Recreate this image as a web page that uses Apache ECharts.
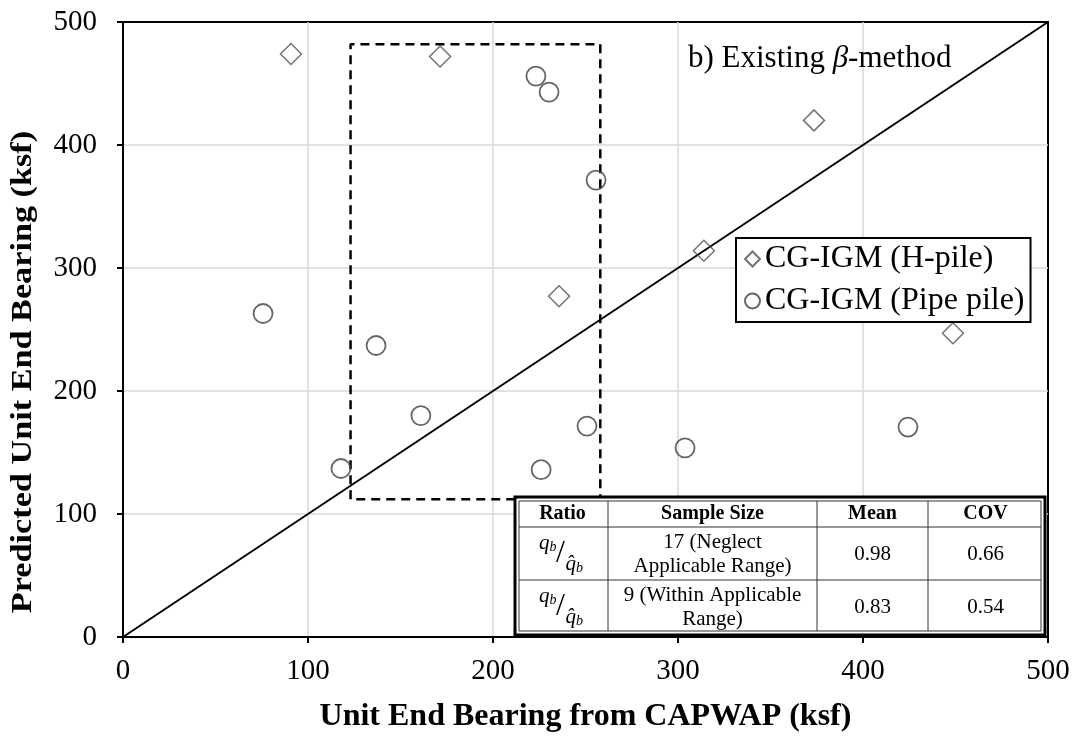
<!DOCTYPE html>
<html>
<head>
<meta charset="utf-8">
<script src="https://cdn.jsdelivr.net/npm/echarts@6/dist/echarts.min.js"></script>
<style>
  html, body { margin: 0; padding: 0; background: #fff; }
  #chart { width: 1081px; height: 739px; }
</style>
</head>
<body>
<div id="chart"></div>
<script>
// H-pile points [CAPWAP, predicted]
const hPile = [
  [90.8, 474], [171.4, 472], [373.5, 420],
  [314, 314], [235.7, 277], [448.6, 247]
]
// pipe pile points
const pipePile = [
  [223.2, 456], [230.3, 443], [255.7, 371.5], [75.7, 263],
  [136.8, 237], [161, 180], [117.8, 137], [226, 136],
  [250.8, 171.5], [303.8, 153.7], [424.3, 170.7]
]
const oneToOne = [[0, 0], [500, 500]]
// applicable range box (dashed)
const rangeBox = [[123, 112], [123, 482], [258, 482], [258, 112], [123, 112]]
const axisTicks = [0, 100, 200, 300, 400, 500]

// summary table
const tableHead = ['Ratio', 'Sample Size', 'Mean', 'COV']
const sampleSizes = ['17 (Neglect\nApplicable Range)', '9 (Within Applicable\nRange)']
const means = ['0.98', '0.83']
const covs = ['0.66', '0.54']

const SERIF = "'Liberation Serif', serif"
const chart = echarts.init(document.getElementById('chart'), null, { renderer: 'canvas' })

// table layout
const T = { x: 517, y: 499, w: 526, h: 134 }
const colX = [517, 608, 817, 928, 1043]
const rowY = [499, 527, 580, 633]

function tableGraphics() {
  const els = []
  els.push({ type: 'rect', shape: { x: T.x - 2, y: T.y - 2, width: T.w + 4, height: T.h + 4 },
    style: { fill: '#fff', stroke: '#000', lineWidth: 3 }, z: 100 })
  els.push({ type: 'rect', shape: { x: T.x + 2, y: T.y + 2, width: T.w - 4, height: T.h - 4 },
    style: { fill: 'none', stroke: '#333', lineWidth: 1 }, z: 101 })
  for (let i = 1; i < colX.length - 1; i++) {
    els.push({ type: 'line', shape: { x1: colX[i], y1: T.y + 2, x2: colX[i], y2: T.y + T.h - 2 },
      style: { stroke: '#333', lineWidth: 1 }, z: 101 })
  }
  for (let j = 1; j < rowY.length - 1; j++) {
    els.push({ type: 'line', shape: { x1: T.x + 2, y1: rowY[j], x2: T.x + T.w - 2, y2: rowY[j] },
      style: { stroke: '#333', lineWidth: 1 }, z: 101 })
  }
  const cell = (c, r, text, bold) => ({
    type: 'text', z: 102,
    x: (colX[c] + colX[c + 1]) / 2, y: (rowY[r] + rowY[r + 1]) / 2 + 1,
    style: { text, fill: '#000', fontFamily: SERIF, fontSize: bold ? 20 : 21,
      fontWeight: bold ? 'bold' : 'normal',
      align: 'center', verticalAlign: 'middle', lineHeight: 24 }
  })
  tableHead.forEach((t, i) => els.push(cell(i, 0, t, true)))
  const rich = {
    q: { fontFamily: SERIF, fontStyle: 'italic', fontSize: 21, fill: '#000' },
    s: { fontFamily: SERIF, fontStyle: 'italic', fontSize: 14, fill: '#000', padding: [7, 0, 0, 0] }
  }
  for (let r = 0; r < 2; r++) {
    els.push(cell(1, r + 1, sampleSizes[r]))
    els.push(cell(2, r + 1, means[r]))
    els.push(cell(3, r + 1, covs[r]))
    const cx = (colX[0] + colX[1]) / 2
    const cy = (rowY[r + 1] + rowY[r + 2]) / 2
    els.push({ type: 'text', z: 102, x: cx - 6, y: cy - 10,
      style: { text: '{q|q}{s|b}', align: 'right', verticalAlign: 'middle', rich } })
    els.push({ type: 'text', z: 102, x: cx - 2, y: cy,
      style: { text: '/', align: 'center', verticalAlign: 'middle', fontFamily: SERIF, fontSize: 32, fill: '#000' } })
    els.push({ type: 'text', z: 102, x: cx + 3, y: cy + 11,
      style: { text: '{q|q̂}{s|b}', align: 'left', verticalAlign: 'middle', rich } })
  }
  // y axis title, drawn as text so it can sit where the reference has it
  els.push({ type: 'text', x: 24, y: 372, rotation: Math.PI / 2, scaleX: 1.18,
    style: { text: 'Predicted Unit End Bearing (ksf)', fontFamily: SERIF, fontWeight: 'bold',
      fontSize: 29, fill: '#000', align: 'center', verticalAlign: 'middle' } })
  return els
}

const axisCommon = {
  type: 'value', min: 0, max: 500, interval: 100,
  axisLine: { show: true, lineStyle: { color: '#000', width: 2 } },
  axisTick: { show: true, inside: false, length: 6, lineStyle: { color: '#000', width: 2 } },
  splitLine: { show: true, showMinLine: false, showMaxLine: false,
    lineStyle: { color: '#d9d9d9', width: 1.5 } },
  nameLocation: 'middle',
  nameTextStyle: { fontFamily: SERIF, fontWeight: 'bold', fontSize: 32, color: '#000' },
  axisLabel: { fontFamily: SERIF, fontSize: 29, color: '#000',
    formatter: v => axisTicks.includes(v) ? String(v) : '' }
}

const option = {
  animation: false,
  backgroundColor: '#fff',
  textStyle: { fontFamily: SERIF },
  grid: { left: 123, right: 33, top: 22, bottom: 102, show: true, outerBoundsMode: 'none',
    borderColor: '#000', borderWidth: 2, backgroundColor: 'transparent' },
  title: {
    left: 683, top: 38,
    text: '{n|b) Existing }{b|β}{n|-method}',
    textStyle: { fontWeight: 'normal', rich: {
      n: { fontFamily: SERIF, fontSize: 31, fontWeight: 'normal', color: '#000' },
      b: { fontFamily: SERIF, fontSize: 31, fontWeight: 'normal', fontStyle: 'italic', color: '#000' }
    } }
  },
  legend: {
    left: 736, top: 238, orient: 'vertical',
    padding: [5, 6, 5, 8], itemGap: 10,
    borderColor: '#000', borderWidth: 2, backgroundColor: '#fff',
    itemWidth: 15, itemHeight: 15,
    textStyle: { fontFamily: SERIF, fontSize: 32, color: '#000' },
    data: ['CG-IGM (H-pile)', 'CG-IGM (Pipe pile)']
  },
  xAxis: { ...axisCommon, name: 'Unit End Bearing from CAPWAP (ksf)', nameGap: 64,
    axisLabel: { ...axisCommon.axisLabel, margin: 20 } },
  yAxis: { ...axisCommon, name: '',
    axisLabel: { ...axisCommon.axisLabel, margin: 26 } },
  graphic: tableGraphics(),
  series: [
    {
      type: 'line', data: oneToOne, symbol: 'none', silent: true,
      lineStyle: { color: '#000', width: 2 }, z: 2
    },
    {
      type: 'line', data: rangeBox, symbol: 'none', silent: true,
      lineStyle: { color: '#000', width: 2.5, type: [9, 6] }, z: 2
    },
    {
      name: 'CG-IGM (H-pile)', type: 'scatter', data: hPile,
      symbol: 'diamond', symbolSize: 21,
      itemStyle: { color: 'rgba(255,255,255,0)', borderColor: '#505050', borderWidth: 1.5 }, z: 3
    },
    {
      name: 'CG-IGM (Pipe pile)', type: 'scatter', data: pipePile,
      symbol: 'circle', symbolSize: 19,
      itemStyle: { color: 'rgba(255,255,255,0)', borderColor: '#404040', borderWidth: 1.8 }, z: 3
    }
  ]
}

chart.setOption(option)
</script>
</body>
</html>
